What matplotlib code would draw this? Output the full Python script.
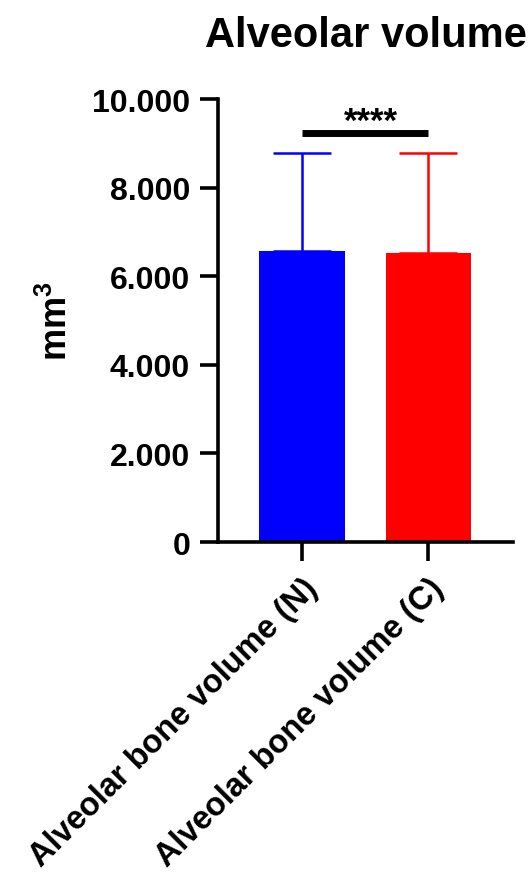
import numpy as np
import matplotlib
matplotlib.use("Agg")
from matplotlib import pyplot as plt
from matplotlib.ticker import FuncFormatter

plt.rcParams['font.family'] = ['Liberation Sans', 'DejaVu Sans']
plt.rcParams['font.weight'] = 'bold'
plt.rcParams['mathtext.fontset'] = 'custom'
plt.rcParams['mathtext.rm'] = 'Liberation Sans:bold'
plt.rcParams['mathtext.bf'] = 'Liberation Sans:bold'

# data
groups = ['Alveolar bone volume (N)', 'Alveolar bone volume (C)']
means = [6562, 6517]
sds = [2212, 2257]
colors = ['#0000ff', '#ff0000']
yticks = [0, 2000, 4000, 6000, 8000, 10000]
sig_label = '****'
sig_y = 9233


def dot_thousands(v, pos):
    # GraphPad style: dot as thousands separator
    return '{:,.0f}'.format(v).replace(',', '.')


fig = plt.figure(figsize=(5.29, 8.78), dpi=100)
ax = fig.add_axes([0.412, 0.3815, 0.558, 0.5046])

x = np.arange(len(groups))
ax.bar(x, means, width=0.675, color=colors, zorder=2)

# upper error bars only
for xi, m, s, c in zip(x, means, sds, colors):
    ax.errorbar(xi, m, yerr=[[0], [s]], color=c, capsize=21, elinewidth=1.8,
                capthick=1.8, zorder=1)

# significance bracket
ax.plot([x[0], x[1]], [sig_y, sig_y], color='black', lw=5, solid_capstyle='butt')
ax.text((x[0] + x[1]) / 2 + 0.05, sig_y - 110, sig_label, ha='center', va='bottom',
        fontsize=25, fontweight='bold', clip_on=False)

ax.set_xlim(-0.667, 1.675)
ax.set_ylim(0, 10000)
ax.set_yticks(yticks)
ax.yaxis.set_major_formatter(FuncFormatter(dot_thousands))
ax.set_xticks(x)
ax.set_xticklabels(groups, rotation=45, ha='right', rotation_mode='anchor')

for side in ['top', 'right']:
    ax.spines[side].set_visible(False)
for side in ['left', 'bottom']:
    ax.spines[side].set_linewidth(2.6)

ax.tick_params(axis='y', length=13, width=2.6, labelsize=23, pad=7)
ax.tick_params(axis='x', length=14, width=2.6, labelsize=23.5, pad=8)
for lab in ax.get_xticklabels() + ax.get_yticklabels():
    lab.set_fontweight('bold')

ax.set_ylabel('mm$^{\\mathbf{3}}$', fontsize=26, fontweight='bold', labelpad=12)
ax.set_title('Alveolar volume', fontsize=30, fontweight='bold', pad=38)

fig.savefig('out.png', dpi=100)
